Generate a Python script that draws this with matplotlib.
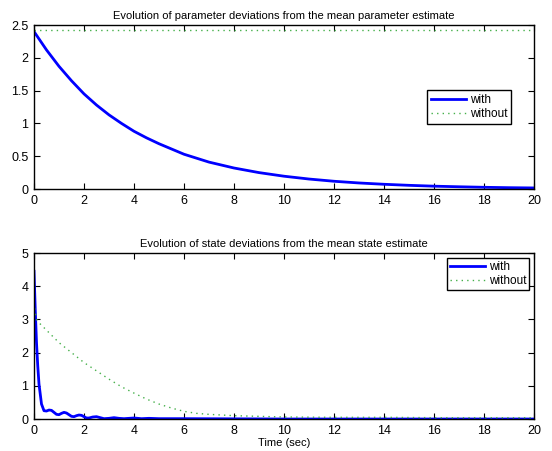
import matplotlib
matplotlib.use("Agg")
import matplotlib.pyplot as plt

plt.rcParams['font.family'] = ['Liberation Sans', 'DejaVu Sans']

# top panel: parameter deviations
t_par = [0, 0.5, 1, 1.5, 2, 2.5, 3, 3.5, 4, 4.5, 5, 5.5, 6, 6.5, 7, 7.5, 8, 9, 10,
         11, 12, 13, 14, 15, 16, 17, 18, 19, 20]
par_with = [2.40, 2.12, 1.87, 1.65, 1.45, 1.28, 1.13, 1.00, 0.88, 0.78, 0.69, 0.61,
            0.53, 0.47, 0.41, 0.365, 0.32, 0.25, 0.195, 0.152, 0.118, 0.092, 0.072,
            0.056, 0.043, 0.034, 0.026, 0.020, 0.016]
par_without = [2.42] * len(t_par)

# bottom panel: state deviations
t_with = [0, 0.05, 0.1, 0.15, 0.2, 0.3, 0.4, 0.5, 0.6, 0.7, 0.8, 0.9, 1.0, 1.1, 1.2,
          1.3, 1.4, 1.5, 1.6, 1.7, 1.8, 1.9, 2.0, 2.1, 2.2, 2.35, 2.5, 2.65, 2.8,
          3.0, 3.2, 3.4, 3.6, 3.8, 4.0, 4.3, 4.6, 5.0, 6.0, 8.0, 10, 14, 20]
st_with = [4.45, 3.3, 2.3, 1.6, 1.05, 0.45, 0.25, 0.24, 0.27, 0.26, 0.2, 0.14, 0.13,
           0.17, 0.2, 0.18, 0.13, 0.08, 0.07, 0.1, 0.12, 0.11, 0.07, 0.03, 0.03,
           0.06, 0.07, 0.04, 0.01, 0.02, 0.04, 0.02, 0.01, 0.02, 0.03, 0.01, 0.02,
           0.01, 0.01, 0.005, 0.0, 0.0, 0.0]
t_without = [0, 0.05, 0.1, 0.2, 0.4, 0.6, 0.8, 1.0, 1.5, 2.0, 2.5, 3.0, 3.5, 4.0,
             4.5, 5.0, 5.5, 6.0, 6.5, 7.0, 7.5, 8.0, 9.0, 10, 12, 14, 16, 18, 20]
st_without = [3.5, 3.2, 3.0, 2.9, 2.75, 2.6, 2.45, 2.3, 2.0, 1.7, 1.45, 1.2, 0.97,
              0.78, 0.6, 0.45, 0.33, 0.23, 0.17, 0.14, 0.12, 0.1, 0.08, 0.06,
              0.05, 0.05, 0.04, 0.04, 0.04]

blue = '#0000ff'
green = '#45b04a'

fig = plt.figure(figsize=(5.52, 4.51), dpi=100)
ax1 = fig.add_axes([34 / 552, 1 - 189 / 451, 500 / 552, 164 / 451])
ax2 = fig.add_axes([34 / 552, 1 - 419 / 451, 500 / 552, 166 / 451])

leg_kw = dict(fontsize=8.5, fancybox=False, edgecolor='black', framealpha=1,
              handlelength=3.0, handletextpad=0.3, labelspacing=0.2)

ax1.plot(t_par, par_with, color=blue, lw=2, label='with')
ax1.plot(t_par, par_without, color=green, lw=1, ls=(0, (1, 3)), label='without')
ax1.set_ylim(0, 2.5)
ax1.set_yticks([0, 0.5, 1, 1.5, 2, 2.5])
ax1.set_yticklabels(['0', '0.5', '1', '1.5', '2', '2.5'])
ax1.set_title('Evolution of parameter deviations from the mean parameter estimate',
              fontsize=8, pad=4)
ax1.legend(loc='center left', bbox_to_anchor=(0.785, 0.5), borderpad=0.35,
           borderaxespad=0, **leg_kw)

ax2.plot(t_with, st_with, color=blue, lw=2, label='with')
ax2.plot(t_without, st_without, color=green, lw=1, ls=(0, (1, 3)), label='without')
ax2.set_ylim(0, 5)
ax2.set_yticks([0, 1, 2, 3, 4, 5])
ax2.set_title('Evolution of state deviations from the mean state estimate',
              fontsize=8, pad=4)
ax2.set_xlabel('Time (sec)', fontsize=8, labelpad=1)
ax2.legend(loc='upper right', borderpad=0.25, borderaxespad=0.4, **leg_kw)

for ax in (ax1, ax2):
    ax.set_xlim(0, 20)
    ax.set_xticks(range(0, 21, 2))
    ax.tick_params(direction='in', top=True, right=True, labelsize=9, length=4,
                   pad=4)
    for s in ax.spines.values():
        s.set_linewidth(1)

fig.savefig('out.png', dpi=100)
